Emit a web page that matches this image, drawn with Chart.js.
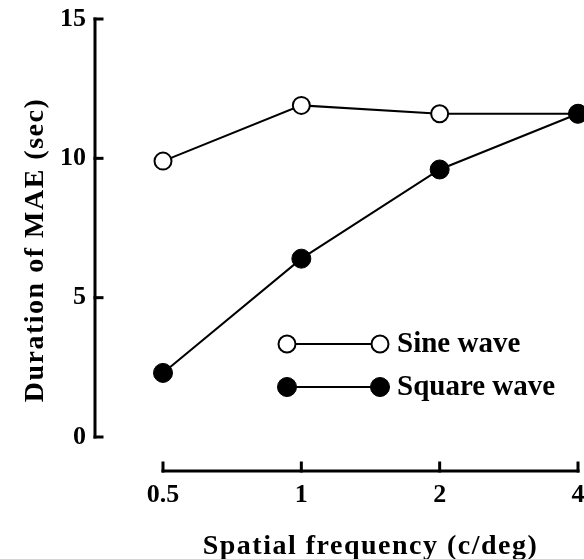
<html><head>
<meta charset="UTF-8">
<title>MAE duration</title>
<style>
  body { margin: 0; padding: 0; background: white; }
  .wrap { width: 584px; height: 559px; }
</style>
<script src="https://cdn.jsdelivr.net/npm/chart.js"></script>
</head>
<body>
<div class="wrap"><canvas id="maeChart" width="584" height="559"></canvas></div>
<script>
  // values
  var freqs = [0.5, 1, 2, 4];
  var freqLabels = ['0.5', '1', '2', '4'];
  var yTicks = [0, 5, 10, 15];
  var sineWave = [9.9, 11.9, 11.6, 11.6];
  var squareWave = [2.3, 6.4, 9.6, 11.6];
  var seriesNames = ['Sine wave', 'Square wave'];
  var xTitle = 'Spatial frequency (c/deg)';
  var yTitle = 'Duration of MAE (sec)';

  var serif = '"Liberation Serif", "DejaVu Serif", serif';

  function pts(vals) {
    return freqs.map(function (f, i) { return { x: f, y: vals[i] }; });
  }

  // axes drawn apart from each other, like the original figure
  var axesPlugin = {
    id: 'axesPlugin',
    afterDraw: function (chart) {
      var ctx = chart.ctx, xs = chart.scales.x, ys = chart.scales.y;
      var axX = 95, axY = 471;
      ctx.save();
      ctx.strokeStyle = '#000';
      ctx.lineWidth = 3;
      ctx.lineCap = 'square';
      // y axis
      ctx.beginPath();
      ctx.moveTo(axX, ys.getPixelForValue(yTicks[yTicks.length - 1]));
      ctx.lineTo(axX, ys.getPixelForValue(yTicks[0]));
      ctx.stroke();
      yTicks.forEach(function (t) {
        var py = ys.getPixelForValue(t);
        ctx.beginPath();
        ctx.moveTo(axX, py);
        ctx.lineTo(axX + 7, py);
        ctx.stroke();
      });
      // x axis
      ctx.beginPath();
      ctx.moveTo(xs.getPixelForValue(freqs[0]), axY);
      ctx.lineTo(xs.getPixelForValue(freqs[freqs.length - 1]), axY);
      ctx.stroke();
      freqs.forEach(function (f) {
        var px = xs.getPixelForValue(f);
        ctx.beginPath();
        ctx.moveTo(px, axY);
        ctx.lineTo(px, axY - 8);
        ctx.stroke();
      });
      ctx.restore();

      // axis titles (spaced out a little, as in the print)
      ctx.save();
      ctx.fillStyle = '#000';
      ctx.font = 'bold 28px ' + serif;
      ctx.letterSpacing = '1.5px';
      ctx.textAlign = 'center';
      ctx.textBaseline = 'alphabetic';
      ctx.fillText(xTitle, (xs.left + xs.right) / 2, 554);
      ctx.translate(43, 250);
      ctx.rotate(-Math.PI / 2);
      ctx.fillText(yTitle, 0, 0);
      ctx.restore();

      // legend: line with a marker at each end
      ctx.save();
      var rows = [344, 387];
      chart.data.datasets.forEach(function (ds, i) {
        var y = rows[i];
        ctx.strokeStyle = '#000';
        ctx.lineWidth = 2;
        ctx.beginPath();
        ctx.moveTo(287, y);
        ctx.lineTo(380, y);
        ctx.stroke();
        [287, 380].forEach(function (cx) {
          ctx.beginPath();
          ctx.arc(cx, y, ds.pointRadius, 0, Math.PI * 2);
          ctx.fillStyle = ds.pointBackgroundColor;
          ctx.fill();
          ctx.lineWidth = ds.pointBorderWidth;
          ctx.stroke();
        });
        ctx.fillStyle = '#000';
        ctx.font = 'bold 29px ' + serif;
        ctx.textAlign = 'left';
        ctx.textBaseline = 'middle';
        ctx.fillText(ds.label, 397, y + 1);
      });
      ctx.restore();
    }
  };

  var bgPlugin = {
    id: 'bg',
    beforeDraw: function (chart) {
      var ctx = chart.ctx;
      ctx.save();
      ctx.fillStyle = '#fff';
      ctx.fillRect(0, 0, chart.width, chart.height);
      ctx.restore();
    }
  };

  var ctx = document.getElementById('maeChart').getContext('2d');
  var chart = new Chart(ctx, {
    type: 'line',
    data: {
      datasets: [{
        label: seriesNames[0],
        data: pts(sineWave),
        borderColor: '#000',
        borderWidth: 2,
        pointRadius: 8.5,
        pointHoverRadius: 8.5,
        pointBackgroundColor: '#fff',
        pointBorderColor: '#000',
        pointBorderWidth: 2,
        order: 2,
        clip: false
      }, {
        label: seriesNames[1],
        data: pts(squareWave),
        borderColor: '#000',
        borderWidth: 2,
        pointRadius: 9.5,
        pointHoverRadius: 9.5,
        pointBackgroundColor: '#000',
        pointBorderColor: '#000',
        pointBorderWidth: 1,
        order: 1,
        clip: false
      }]
    },
    options: {
      responsive: false,
      animation: false,
      layout: { autoPadding: false, padding: { top: 19, right: 6, left: 0, bottom: 0 } },
      plugins: { legend: { display: false }, tooltip: { enabled: false } },
      scales: {
        x: {
          type: 'logarithmic',
          min: 0.5,
          max: 4,
          grid: { display: false, drawTicks: false },
          border: { display: false },
          afterBuildTicks: function (s) {
            s.ticks = freqs.map(function (f) { return { value: f }; });
          },
          afterFit: function (s) {
            s.height = 122;
            s.paddingLeft = 0;
            s.paddingRight = 0;
          },
          ticks: {
            color: '#000',
            padding: 43,
            maxRotation: 0,
            autoSkip: false,
            font: { family: serif, size: 26, weight: 'bold' },
            callback: function (v) { return freqLabels[freqs.indexOf(v)]; }
          }
        },
        y: {
          min: 0,
          max: 15,
          grid: { display: false, drawTicks: false },
          border: { display: false },
          afterBuildTicks: function (s) {
            s.ticks = yTicks.map(function (t) { return { value: t }; });
          },
          afterFit: function (s) {
            s.width = 163;
            s.paddingTop = 0;
            s.paddingBottom = 0;
          },
          ticks: {
            color: '#000',
            padding: 77,
            font: { family: serif, size: 26, weight: 'bold' }
          }
        }
      }
    },
    plugins: [bgPlugin, axesPlugin]
  });
</script>
</body>
</html>
